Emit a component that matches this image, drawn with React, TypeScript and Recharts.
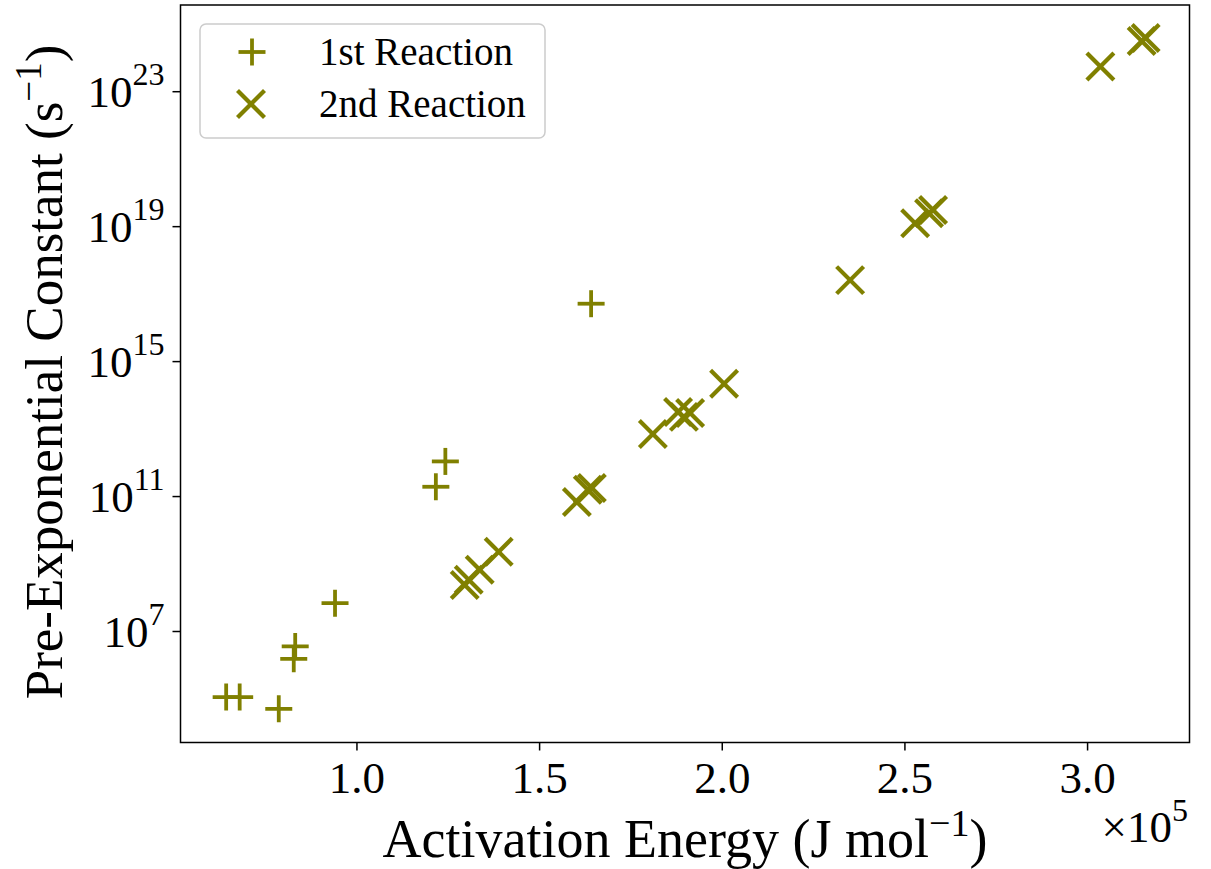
import React from 'react';
import {
  ScatterChart,
  Scatter,
  XAxis,
  YAxis,
  Legend,
  ReferenceArea,
} from 'recharts';

// activation energy (J/mol) and pre-exponential constant (1/s)
const firstEnergy = [64200, 67900, 78600, 83100, 82700, 94000, 124200, 121600, 164100];
const firstPreExp = [1.14e5, 1.14e5, 5.1e4, 3.6e6, 1.55e6, 6.9e7, 1.1e12, 1.95e11, 5.2e16];

const secondEnergy = [
  129500, 130600, 133600, 138800, 160200, 163200, 164300, 181000, 187900, 189500, 191200,
  200500, 235000, 252800, 256600, 257700, 303500, 314800, 315900,
];
const secondPreExp = [
  2.4e8, 3.4e8, 6.8e8, 2.3e9, 6.9e10, 1.6e11, 1.8e11, 7.2e12, 3.2e13, 2.3e13, 3.0e13,
  2.2e14, 2.6e17, 1.26e19, 2.5e19, 3.1e19, 5.6e23, 3.2e24, 3.9e24,
];

const xTicks = [100000, 150000, 200000, 250000, 300000];
const yTicks = [1e7, 1e11, 1e15, 1e19, 1e23];

const firstData = firstEnergy.map((x, i) => ({ x, y: firstPreExp[i] }));
const secondData = secondEnergy.map((x, i) => ({ x, y: secondPreExp[i] }));

const OLIVE = '#808000';
const FONT = '"Liberation Serif", "DejaVu Serif", serif';

const Plus = ({ cx, cy }: any) => (
  <g stroke={OLIVE} strokeWidth={3.8}>
    <line x1={cx - 13.5} y1={cy} x2={cx + 13.5} y2={cy} />
    <line x1={cx} y1={cy - 13.5} x2={cx} y2={cy + 13.5} />
  </g>
);

const Cross = ({ cx, cy }: any) => (
  <g stroke={OLIVE} strokeWidth={4.2}>
    <line x1={cx - 13.5} y1={cy - 13.5} x2={cx + 13.5} y2={cy + 13.5} />
    <line x1={cx - 13.5} y1={cy + 13.5} x2={cx + 13.5} y2={cy - 13.5} />
  </g>
);

const YTick = ({ x, y, payload }: any) => {
  const exp = Math.round(Math.log10(payload.value));
  return (
    <text x={x - 6} y={y + 15} textAnchor="end" fontFamily={FONT} fontSize={45} fill="#000">
      10
      <tspan dy={-22} fontSize={32}>
        {exp}
      </tspan>
    </text>
  );
};

const XTick = ({ x, y, payload }: any) => (
  <text x={x} y={y + 40} textAnchor="middle" fontFamily={FONT} fontSize={45} fill="#000">
    {(payload.value / 1e5).toFixed(1)}
  </text>
);

const XLabel = () => (
  <g fontFamily={FONT} fill="#000">
    <text x={685} y={857} textAnchor="middle" fontSize={54}>
      Activation Energy (J mol
      <tspan dy={-21} fontSize={38}>−1</tspan>
      <tspan dy={21}>)</tspan>
    </text>
    <text x={1188} y={842} textAnchor="end" fontSize={45}>
      ×10
      <tspan dy={-21} fontSize={32}>5</tspan>
    </text>
  </g>
);

const YLabel = () => (
  <text
    x={0}
    y={0}
    transform="translate(62, 372) rotate(-90)"
    textAnchor="middle"
    fontFamily={FONT}
    fontSize={53}
    fill="#000"
  >
    Pre-Exponential Constant (s
    <tspan dy={-21} fontSize={37}>−1</tspan>
    <tspan dy={21}>)</tspan>
  </text>
);

const LegendBox = () => (
  <svg width={350} height={120} style={{ display: 'block' }}>
    <rect x={1} y={1} width={345} height={114} rx={6} fill="#fff" fillOpacity={0.8} stroke="#cccccc" strokeWidth={1.5} />
    <Plus cx={53} cy={29} />
    <Cross cx={52} cy={81} />
    <text x={120} y={42} fontFamily={FONT} fontSize={39} fill="#000">1st Reaction</text>
    <text x={120} y={94} fontFamily={FONT} fontSize={39} fill="#000">2nd Reaction</text>
  </svg>
);

export default function App() {
  return (
    <div style={{ position: 'absolute', left: 0, top: 0, width: 1211, height: 869, background: '#fff' }}>
      <ScatterChart width={1211} height={869} margin={{ top: 5, right: 21.5, bottom: 0, left: 0 }}>
        <XAxis
          dataKey="x"
          type="number"
          domain={[51700, 327900]}
          ticks={xTicks}
          allowDataOverflow
          height={126.5}
          axisLine={false}
          tickSize={8}
          tickLine={{ stroke: '#000', strokeWidth: 1.5 }}
          tick={<XTick />}
          label={{ content: () => <XLabel /> }}
        />
        <YAxis
          dataKey="y"
          type="number"
          scale="log"
          domain={[10 ** 3.71, 10 ** 25.57]}
          ticks={yTicks}
          allowDataOverflow
          width={180.5}
          axisLine={false}
          tickSize={8}
          tickLine={{ stroke: '#000', strokeWidth: 1.5 }}
          tick={<YTick />}
          label={{ content: () => <YLabel /> }}
        />
        <ReferenceArea
          x1={51700}
          x2={327900}
          y1={10 ** 3.71}
          y2={10 ** 25.57}
          fill="none"
          stroke="#000"
          strokeWidth={1.5}
          ifOverflow="visible"
        />
        <Scatter name="1st Reaction" data={firstData} shape={<Plus />} isAnimationActive={false} />
        <Scatter name="2nd Reaction" data={secondData} shape={<Cross />} isAnimationActive={false} />
        <Legend
          layout="horizontal"
          verticalAlign="middle"
          align="center"
          wrapperStyle={{ position: 'absolute', left: 199, top: 23, width: 350, height: 120 }}
          content={() => <LegendBox />}
        />
      </ScatterChart>
    </div>
  );
}
